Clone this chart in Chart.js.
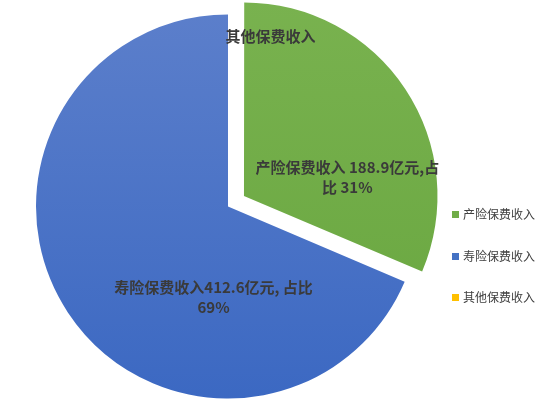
<!DOCTYPE html>
<html><head><meta charset="utf-8">
<script src="https://cdn.jsdelivr.net/npm/chart.js@4"></script>
<style>
html,body{margin:0;padding:0;background:#fff;}
#wrap{position:relative;width:549px;height:407px;overflow:hidden;}
#legend{position:absolute;left:452px;top:206px;font-family:"Noto Sans CJK SC",sans-serif;font-size:12px;color:#404040;}
#legend div{height:41.5px;line-height:16px;white-space:nowrap;}
#legend span.b{display:inline-block;width:7px;height:7px;margin-right:4px;vertical-align:1px;}
</style></head>
<body>
<div id="wrap"><canvas id="c" width="549" height="407"></canvas><div id="legend"></div></div>
<script>
const categories = ['产险保费收入', '寿险保费收入', '其他保费收入'];
const values = [188.9, 412.6, 0];
const percents = ['31%', '69%', ''];
const labelLines = [
  ['产险保费收入 188.9亿元,占', '比 31%'],
  ['寿险保费收入412.6亿元, 占比', '69%'],
  ['其他保费收入']
];
const colors = ['#70AD47', '#4472C4', '#FFC000'];
const gradTop = ['#79B24F', '#5C7FCB', '#FFC000'];
const gradBot = ['#68A63F', '#3B68C2', '#FFC000'];
// label placement: [fraction of radius, angle in degrees clockwise from top] relative to each slice's centre
const labelPlace = [[0.54, 80], [0.48, 189], [0.915, 14]];

const lg = document.getElementById('legend');
categories.forEach((c, i) => {
  const d = document.createElement('div');
  d.innerHTML = '<span class="b" style="background:' + colors[i] + '"></span>' + c;
  lg.appendChild(d);
});

// Chart.js v4 arc draws its offset as offset/4 * (1 + fix)
function effectiveOffset(off, circ) {
  const o = (off || 0) / 4;
  const fix = 1 - Math.sin(Math.min(Math.PI, circ || 0));
  return o * (1 + fix);
}

const labelPlugin = {
  id: 'sliceLabels',
  afterDatasetsDraw(chart) {
    const meta = chart.getDatasetMeta(0);
    const ctx = chart.ctx;
    ctx.save();
    ctx.fillStyle = '#3a3a3a';
    ctx.textAlign = 'center';
    ctx.textBaseline = 'middle';
    ctx.font = 'bold 15px "Noto Sans CJK SC", sans-serif';
    meta.data.forEach((arc, i) => {
      const p = arc.getProps(['x', 'y', 'startAngle', 'endAngle', 'outerRadius', 'circumference'], true);
      const mid = (p.startAngle + p.endAngle) / 2;
      const off = effectiveOffset(arc.options.offset, p.circumference);
      const cx = p.x + Math.cos(mid) * off;
      const cy = p.y + Math.sin(mid) * off;
      const a = (labelPlace[i][1] - 90) * Math.PI / 180;
      const r = labelPlace[i][0] * p.outerRadius;
      const lx = cx + Math.cos(a) * r;
      const ly = cy + Math.sin(a) * r;
      const lines = labelLines[i];
      const lh = 20;
      lines.forEach((t, k) => {
        ctx.fillText(t, lx, ly + (k - (lines.length - 1) / 2) * lh);
      });
    });
    ctx.restore();
  }
};

new Chart(document.getElementById('c'), {
  type: 'pie',
  data: {
    labels: categories,
    datasets: [{
      data: values,
      backgroundColor: (ctx) => {
        const i = ctx.dataIndex;
        const area = ctx.chart.chartArea;
        if (!area) return colors[i];
        const g = ctx.chart.ctx.createLinearGradient(0, area.top, 0, area.bottom);
        g.addColorStop(0, gradTop[i]);
        g.addColorStop(1, gradBot[i]);
        return g;
      },
      borderWidth: 0,
      offset: [76.6, 0, 0],
      radius: 192
    }]
  },
  options: {
    responsive: false,
    devicePixelRatio: 1,
    animation: false,
    layout: { padding: { left: 0, right: 93, top: 6, bottom: 0 } },
    plugins: { legend: { display: false }, tooltip: { enabled: false } }
  },
  plugins: [labelPlugin]
});
</script>
</body></html>
